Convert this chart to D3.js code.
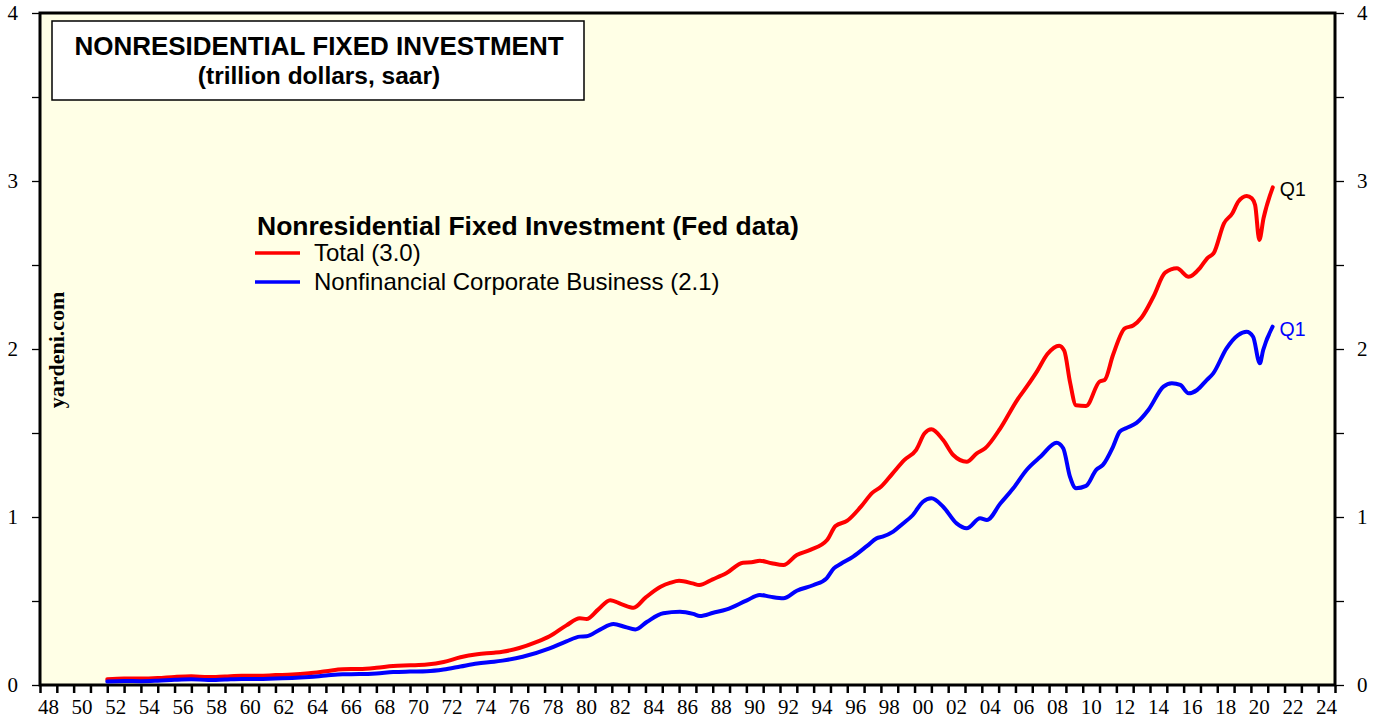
<!DOCTYPE html>
<meta charset="utf-8">
<html>
<style>
  body { margin: 0; background: #fff; }
  .axis-label { font-family: "Liberation Serif", "Times New Roman", serif; font-size: 21px; fill: #000; }
  .sans { font-family: "Liberation Sans", Arial, sans-serif; }
</style>
<body>
<svg width="1382" height="719"></svg>
<script src="https://d3js.org/d3.v7.min.js"></script>
<script>
// Total nonresidential fixed investment (trillion $, saar)
var totalDates = [1952.0, 1953, 1954, 1955, 1956, 1957, 1958, 1959, 1960, 1961, 1962, 1963, 1964, 1965, 1966, 1967,
  1968, 1969, 1970, 1971, 1972, 1973, 1974, 1975, 1975.5, 1976.5, 1977.5, 1978.3, 1979.3, 1980.1, 1980.5, 1981.2,
  1981.9, 1982.6, 1983.3, 1984.0, 1984.9, 1985.5, 1986.0, 1986.8, 1987.2, 1988.0, 1988.8, 1989.8, 1990.3, 1990.8,
  1991.5, 1992.2, 1993.0, 1993.8, 1994.8, 1995.3, 1996.0, 1996.8, 1997.5, 1998.0, 1998.7, 1999.4, 2000.1, 2000.6,
  2001.0, 2001.7, 2002.3, 2003.1, 2003.7, 2004.2, 2005.1, 2006.1, 2006.7, 2007.3, 2007.9, 2008.6, 2008.9, 2009.25,
  2009.6, 2010.2, 2011.0, 2011.3, 2011.8, 2012.5, 2013.0, 2013.5, 2014.2, 2014.9, 2015.6, 2016.3, 2017.0, 2017.4,
  2017.8, 2018.4, 2018.9, 2019.25, 2019.75, 2020.05, 2020.25, 2020.5, 2020.75, 2021.3];
var totalValues = [0.034, 0.038, 0.038, 0.041, 0.048, 0.052, 0.047, 0.051, 0.055, 0.055, 0.059, 0.062, 0.070, 0.082, 0.094, 0.095,
  0.102, 0.113, 0.117, 0.122, 0.137, 0.165, 0.183, 0.192, 0.198, 0.220, 0.255, 0.290, 0.355, 0.397, 0.393, 0.450,
  0.505, 0.480, 0.460, 0.520, 0.585, 0.609, 0.620, 0.605, 0.595, 0.629, 0.665, 0.728, 0.730, 0.740,
  0.725, 0.714, 0.774, 0.804, 0.863, 0.946, 0.978, 1.060, 1.145, 1.180, 1.260, 1.340, 1.400, 1.498,
  1.522, 1.458, 1.369, 1.329, 1.379, 1.409, 1.528, 1.696, 1.780, 1.870, 1.970, 2.020, 1.990, 1.800,
  1.665, 1.661, 1.806, 1.815, 1.964, 2.123, 2.140, 2.188, 2.311, 2.454, 2.480, 2.430, 2.486, 2.540,
  2.573, 2.748, 2.808, 2.877, 2.911, 2.897, 2.857, 2.649, 2.778, 2.962];

// Nonfinancial corporate business
var corpDates = [1952.0, 1953, 1954, 1955, 1956, 1957, 1958, 1959, 1960, 1961, 1962, 1963, 1964, 1965, 1966, 1967,
  1968, 1969, 1970, 1971, 1972, 1973, 1974, 1975, 1975.5, 1976.7, 1978.3, 1979.3, 1980.1, 1980.5, 1981.3, 1982.1,
  1982.8, 1983.4, 1984.1, 1985.06, 1986.05, 1986.84, 1987.24, 1988.03, 1988.83, 1990.0, 1990.8, 1991.4, 1992.2,
  1993.0, 1994.0, 1994.77, 1995.2, 1995.6, 1996.35, 1997.2, 1997.74, 1998.1, 1998.73, 1999.3, 1999.9, 2000.5,
  2001.0, 2001.7, 2002.5, 2003.1, 2003.9, 2004.3, 2005.1, 2005.87, 2006.66, 2007.5, 2008.45, 2008.84, 2009.24,
  2009.6, 2010.2, 2010.8, 2011.2, 2011.8, 2012.2, 2012.6, 2013.2, 2013.9, 2014.8, 2015.3, 2015.8, 2016.3, 2016.8,
  2017.37, 2017.76, 2018.55, 2019.24, 2019.74, 2020.13, 2020.53, 2020.73, 2021.29];
var corpValues = [0.021, 0.024, 0.023, 0.026, 0.031, 0.034, 0.030, 0.033, 0.036, 0.036, 0.039, 0.041, 0.047, 0.056, 0.064, 0.065,
  0.069, 0.077, 0.080, 0.082, 0.092, 0.110, 0.128, 0.138, 0.145, 0.168, 0.218, 0.260, 0.288, 0.290, 0.330, 0.363,
  0.345, 0.331, 0.377, 0.427, 0.436, 0.423, 0.411, 0.430, 0.450, 0.502, 0.536, 0.526, 0.516,
  0.561, 0.595, 0.635, 0.694, 0.720, 0.764, 0.830, 0.873, 0.883, 0.913, 0.960, 1.012, 1.091,
  1.111, 1.061, 0.962, 0.933, 0.992, 0.982, 1.080, 1.171, 1.280, 1.360, 1.442, 1.409, 1.240,
  1.171, 1.185, 1.280, 1.310, 1.418, 1.508, 1.530, 1.560, 1.637, 1.776, 1.796, 1.786, 1.736, 1.756,
  1.815, 1.855, 2.004, 2.083, 2.103, 2.073, 1.915, 1.994, 2.133];

var yTicks = [0, 1, 2, 3, 4];
var yMinor = [0.5, 1.5, 2.5, 3.5];
var legendNames = ["Total (3.0)", "Nonfinancial Corporate Business (2.1)"];
var seriesColors = ["#ff0000", "#0000ff"];

var svg = d3.select("svg");

var x = d3.scaleLinear().domain([1948, 2025]).range([40, 1335]);
var y = d3.scaleLinear().domain([0, 4]).range([685, 13]);

// plot background
svg.append("rect")
  .attr("x", x(1948)).attr("y", y(4))
  .attr("width", x(2025) - x(1948)).attr("height", y(0) - y(4))
  .attr("fill", "#ffffe6");

// left and right axes
function yFormat(d) { return yTicks.indexOf(d) >= 0 ? d : ""; }
var yLeft = svg.append("g").attr("transform", "translate(" + x(1948) + ",0)")
  .call(d3.axisLeft(y).tickValues(yTicks.concat(yMinor)).tickSize(8).tickPadding(14).tickFormat(yFormat));
var yRight = svg.append("g").attr("transform", "translate(" + x(2025) + ",0)")
  .call(d3.axisRight(y).tickValues(yTicks.concat(yMinor)).tickSize(9).tickPadding(13).tickFormat(yFormat));

// bottom axis: ticks every year, labels every two years centred in the year
var years = d3.range(1948, 2026);
var xAxis = svg.append("g").attr("transform", "translate(0," + y(0) + ")")
  .call(d3.axisBottom(x).tickValues(years).tickSize(8).tickFormat(""));
var labelYears = d3.range(1948, 2025, 2);
svg.append("g").selectAll("text")
  .data(labelYears).enter().append("text")
  .attr("class", "axis-label")
  .attr("x", function(d) { return x(d + 0.5); })
  .attr("y", 714)
  .attr("text-anchor", "middle")
  .text(function(d) { return String(d % 100).padStart(2, "0"); });

[yLeft, yRight, xAxis].forEach(function(g) {
  g.select(".domain").remove();
  g.selectAll(".tick line").attr("stroke", "#000").attr("stroke-width", 1.3);
  g.selectAll(".tick text").attr("class", "axis-label").attr("font-size", null).attr("font-family", null);
});
xAxis.selectAll(".tick line").attr("stroke-width", 2.5);

// frame
svg.append("rect")
  .attr("x", x(1948)).attr("y", y(4))
  .attr("width", x(2025) - x(1948)).attr("height", y(0) - y(4))
  .attr("fill", "none").attr("stroke", "#000").attr("stroke-width", 3);

// lines
var line = d3.line()
  .x(function(d) { return x(d[0]); })
  .y(function(d) { return y(d[1]); })
  .curve(d3.curveMonotoneX);

var series = [d3.zip(totalDates, totalValues), d3.zip(corpDates, corpValues)];
svg.append("g").selectAll("path")
  .data(series).enter().append("path")
  .attr("d", line)
  .attr("fill", "none")
  .attr("stroke", function(d, i) { return seriesColors[i]; })
  .attr("stroke-width", 4)
  .attr("stroke-linejoin", "round")
  .attr("stroke-linecap", "round");

// Q1 end labels
series.forEach(function(s, i) {
  var last = s[s.length - 1];
  svg.append("text").attr("class", "sans")
    .attr("x", x(last[0]) + 7).attr("y", y(last[1]) + 9)
    .attr("font-size", 19.5)
    .attr("fill", i === 0 ? "#000" : "#0000ff")
    .text("Q1");
});

// title box
svg.append("rect").attr("x", 52).attr("y", 21).attr("width", 532).attr("height", 79)
  .attr("fill", "#fff").attr("stroke", "#000").attr("stroke-width", 1.5);
svg.append("text").attr("class", "sans").attr("x", 319).attr("y", 55)
  .attr("text-anchor", "middle").attr("font-size", 26).attr("font-weight", "bold")
  .text("NONRESIDENTIAL FIXED INVESTMENT");
svg.append("text").attr("class", "sans").attr("x", 319).attr("y", 84)
  .attr("text-anchor", "middle").attr("font-size", 24.5).attr("font-weight", "bold")
  .text("(trillion dollars, saar)");

// legend
svg.append("text").attr("class", "sans").attr("x", 257).attr("y", 235)
  .attr("font-size", 26.5).attr("font-weight", "bold")
  .text("Nonresidential Fixed Investment (Fed data)");
var legend = svg.append("g").selectAll("g")
  .data(legendNames).enter().append("g")
  .attr("transform", function(d, i) { return "translate(255," + (253 + i * 29) + ")"; });
legend.append("line").attr("x1", 0).attr("x2", 45)
  .attr("stroke", function(d, i) { return seriesColors[i]; }).attr("stroke-width", 3.5);
legend.append("text").attr("class", "sans").attr("x", 59).attr("y", 8)
  .attr("font-size", 24).text(function(d) { return d; });

// watermark
svg.append("text")
  .attr("transform", "translate(64,350) rotate(-90)")
  .attr("text-anchor", "middle")
  .attr("font-family", "'Liberation Serif', 'Times New Roman', serif")
  .attr("font-weight", "bold").attr("font-size", 22)
  .text("yardeni.com");
</script>
</body>
</html>
